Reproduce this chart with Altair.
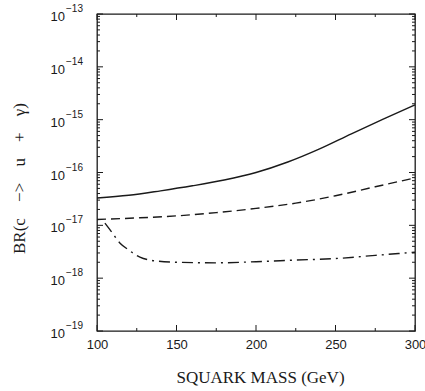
import altair as alt
import pandas as pd

# ---- data ----
mass_solid = [100, 120, 140, 160, 180, 200, 220, 240, 260, 280, 300]
br_solid = [3.3e-17, 3.7e-17, 4.5e-17, 5.6e-17, 7.2e-17, 1.0e-16, 1.58e-16,
            2.8e-16, 5.4e-16, 1.02e-15, 1.9e-15]

mass_dashed = [100, 125, 150, 175, 200, 225, 250, 275, 300]
br_dashed = [1.29e-17, 1.38e-17, 1.51e-17, 1.74e-17, 2.09e-17, 2.63e-17, 3.63e-17,
             5.37e-17, 7.9e-17]

mass_dashdot = [105, 108, 114.5, 120, 127, 138, 150, 175, 200, 225, 250, 275, 300]
br_dashdot = [1.1e-17, 8.4e-18, 4.6e-18, 3.4e-18, 2.5e-18, 2.1e-18, 2.0e-18, 1.95e-18,
              2.05e-18, 2.2e-18, 2.35e-18, 2.7e-18, 3.1e-18]

x_major = [100, 150, 200, 250, 300]
x_minor = [125, 175, 225, 275]
y_decades = [1e-19, 1e-18, 1e-17, 1e-16, 1e-15, 1e-14, 1e-13]
y_exponents = ["\u221219", "\u221218", "\u221217", "\u221216", "\u221215", "\u221214", "\u221213"]
y_minor_mult = [2, 3, 4, 5, 6, 7, 8, 9]

W, H = 318, 317
INK = "#1a1a1a"
GAP = "\u2002\u2009\u00a0"

xs = alt.Scale(domain=[100, 300], nice=False, zero=False)
ys = alt.Scale(type="log", domain=[1e-19, 1e-13], nice=False)

df = pd.concat([
    pd.DataFrame({"m": mass_solid, "br": br_solid, "s": "solid"}),
    pd.DataFrame({"m": mass_dashed, "br": br_dashed, "s": "dashed"}),
    pd.DataFrame({"m": mass_dashdot, "br": br_dashdot, "s": "dashdot"}),
])

xaxis = alt.Axis(values=x_major, ticks=False, domain=False, grid=False,
                 labelFlush=False, labelOverlap=False,
                 labelFont="Liberation Sans", labelFontSize=13, labelColor=INK,
                 labelPadding=7, title="SQUARK MASS (GeV)",
                 titleFont="Liberation Serif", titleFontSize=17, titleFontWeight="normal",
                 titleColor=INK, titleX=163, titleY=46, titleBaseline="middle",
                 titleAlign="center")
yaxis = alt.Axis(labels=False, ticks=False, domain=False, grid=False,
                 title="BR(c" + GAP + "\u2212>" + GAP + "u" + GAP + "+" + GAP + "\u03b3)",
                 titleFont="Liberation Serif",
                 titleFontSize=17, titleFontWeight="normal", titleColor=INK,
                 titleX=-78, titleY=164, titleAlign="center", titleBaseline="middle",
                 titleAngle=270)

def line(kind, dash):
    enc = dict(x=alt.X("m:Q", scale=xs, axis=xaxis),
               y=alt.Y("br:Q", scale=ys, axis=yaxis))
    kw = dict(color=INK, strokeWidth=1.4, interpolate="monotone")
    if dash:
        kw["strokeDash"] = dash
    return alt.Chart(df[df.s == kind]).mark_line(**kw).encode(**enc)

solid = line("solid", None)
dashed = line("dashed", [9, 5])
dashdot = line("dashdot", [11, 5, 2, 5])

xt_major = pd.DataFrame({"m": x_major})
xt_minor = pd.DataFrame({"m": x_minor})
y_minor_vals = [d * k for d in y_decades[:-1] for k in y_minor_mult]
yt_major = pd.DataFrame({"br": y_decades})
yt_minor = pd.DataFrame({"br": y_minor_vals})

def xticks(data, L):
    b = alt.Chart(data).mark_rule(color=INK, strokeWidth=1)
    bot = b.encode(x=alt.X("m:Q", scale=xs), y=alt.value(H), y2=alt.value(H - L))
    top = b.encode(x=alt.X("m:Q", scale=xs), y=alt.value(0), y2=alt.value(L))
    return bot + top

def yticks(data, L):
    b = alt.Chart(data).mark_rule(color=INK, strokeWidth=1)
    left = b.encode(y=alt.Y("br:Q", scale=ys), x=alt.value(0), x2=alt.value(L))
    right = b.encode(y=alt.Y("br:Q", scale=ys), x=alt.value(W), x2=alt.value(W - L))
    return left + right

ylab_df = pd.DataFrame({"br": y_decades, "e": y_exponents, "t": "10"})
ten = alt.Chart(ylab_df).mark_text(align="right", baseline="middle", dy=3,
                                   font="Liberation Sans", fontSize=13, color=INK).encode(
    y=alt.Y("br:Q", scale=ys), x=alt.value(-32), text="t:N")
exp = alt.Chart(ylab_df).mark_text(align="left", baseline="middle", dy=-5,
                                   font="Liberation Sans", fontSize=10, color=INK).encode(
    y=alt.Y("br:Q", scale=ys), x=alt.value(-31), text="e:N")

chart = alt.layer(
    solid, dashed, dashdot,
    xticks(xt_major, 6), xticks(xt_minor, 3),
    yticks(yt_major, 6), yticks(yt_minor, 3),
    ten, exp,
).properties(
    width=W, height=H,
    autosize=alt.AutoSizeParams(type="none"),
    padding={"left": 97, "top": 14, "right": 10, "bottom": 60},
    background="white",
).configure_view(stroke=INK, strokeWidth=1.3)

chart.save("out.html", embed_options={"renderer": "svg", "actions": False})
